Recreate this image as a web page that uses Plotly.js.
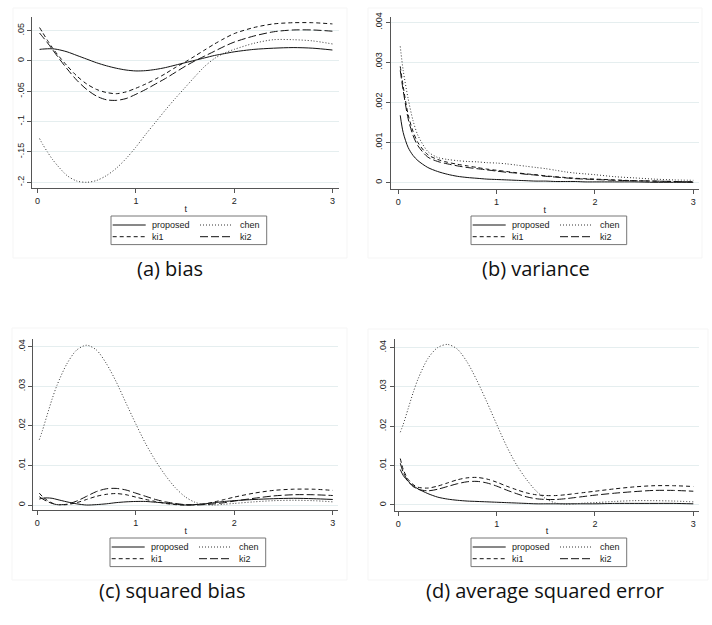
<!DOCTYPE html>
<html>
<head>
<meta charset="utf-8">
<script src="https://cdn.plot.ly/plotly-3.0.1.min.js"></script>
<style>
  html, body { margin: 0; padding: 0; background: #fff; }
  #chart { width: 712px; height: 625px; }
</style>
</head>
<body>
<div id="chart"></div>
<script>
// Evaluation points of the simulation study
const t = [0.02, 0.05, 0.1, 0.15, 0.2, 0.3, 0.4, 0.5, 0.6, 0.7, 0.8, 0.9, 1.0, 1.1, 1.2, 1.3, 1.4, 1.5,
           1.6, 1.7, 1.8, 1.9, 2.0, 2.2, 2.4, 2.6, 2.8, 3.0];

const seriesNames = ['proposed', 'chen', 'ki1', 'ki2'];

// (a) bias
const biasProposed = [0.019, 0.0195, 0.020, 0.020, 0.019, 0.015, 0.009, 0.003, -0.003, -0.008, -0.012, -0.015, -0.0165, -0.016,
                      -0.014, -0.011, -0.007, -0.003, 0.001, 0.005, 0.009, 0.012, 0.015, 0.019, 0.021, 0.022, 0.021, 0.018];
const biasChen = [-0.128, -0.137, -0.150, -0.162, -0.172, -0.189, -0.198, -0.200, -0.197, -0.189, -0.177, -0.161, -0.142, -0.121,
                  -0.101, -0.081, -0.062, -0.044, -0.026, -0.009, 0.004, 0.013, 0.019, 0.029, 0.035, 0.035, 0.033, 0.028];
const biasKi1 = [0.055, 0.047, 0.034, 0.022, 0.011, -0.008, -0.025, -0.038, -0.047, -0.052, -0.054, -0.051, -0.045, -0.038,
                 -0.030, -0.021, -0.011, -0.002, 0.008, 0.018, 0.028, 0.037, 0.045, 0.055, 0.061, 0.063, 0.063, 0.061];
const biasKi2 = [0.046, 0.040, 0.030, 0.019, 0.008, -0.013, -0.032, -0.047, -0.058, -0.064, -0.065, -0.062, -0.055, -0.047,
                 -0.038, -0.029, -0.019, -0.009, 0.000, 0.008, 0.016, 0.024, 0.031, 0.041, 0.048, 0.051, 0.051, 0.049];

// (b) variance
const varProposed = [0.00168, 0.00125, 0.00088, 0.00068, 0.00055, 0.00038, 0.00028, 0.00021, 0.00016, 0.00013, 0.00011, 0.00009,
                     0.00008, 0.00007, 0.00006, 0.00005, 0.00004, 0.00004, 0.00003, 0.00003, 0.00003, 0.00002, 0.00002, 0.00002,
                     0.00002, 0.00001, 0.00001, 0.00001];
const varChen = [0.0034, 0.0028, 0.0021, 0.00155, 0.00118, 0.00078, 0.00063, 0.00058, 0.00055, 0.00053, 0.00052, 0.0005,
                 0.00049, 0.00047, 0.00044, 0.00041, 0.00038, 0.00035, 0.00031, 0.00027, 0.00024, 0.00022, 0.0002, 0.00015,
                 0.00012, 0.00009, 0.00007, 0.00006];
const varKi1 = [0.0029, 0.0024, 0.0017, 0.00128, 0.001, 0.0007, 0.00058, 0.00051, 0.00046, 0.00042, 0.00038, 0.00034,
                0.00031, 0.00028, 0.00025, 0.00022, 0.0002, 0.00017, 0.00015, 0.00013, 0.00011, 0.0001, 0.00009, 0.00007,
                0.00005, 0.00004, 0.00003, 0.00002];
const varKi2 = [0.0028, 0.0023, 0.0016, 0.00118, 0.00092, 0.00064, 0.00053, 0.00047, 0.00042, 0.00038, 0.00035, 0.00032,
                0.00029, 0.00026, 0.00024, 0.00021, 0.00019, 0.00016, 0.00014, 0.00012, 0.0001, 0.00009, 0.00008, 0.00006,
                0.00005, 0.00004, 0.00003, 0.00002];

// (c) squared bias
const sqbProposed = [0.0015, 0.0017, 0.0018, 0.0017, 0.0014, 0.0008, 0.0003, 0.0000, 0.0001, 0.0003, 0.0006, 0.0008, 0.0009, 0.0009,
                     0.0007, 0.0005, 0.0002, 0.0000, 0.0001, 0.0003, 0.0006, 0.0009, 0.0011, 0.0014, 0.0016, 0.0017, 0.0016, 0.0014];
const sqbChen = [0.0165, 0.0187, 0.0228, 0.0268, 0.0303, 0.0357, 0.0392, 0.0404, 0.0392, 0.0358, 0.0312, 0.0258, 0.0205, 0.0155,
                 0.0112, 0.0075, 0.0044, 0.0021, 0.0007, 0.0001, 0.0000, 0.0002, 0.0004, 0.0008, 0.0011, 0.0012, 0.0011, 0.0008];
const sqbKi1 = [0.0030, 0.0022, 0.0012, 0.0005, 0.0001, 0.0001, 0.0006, 0.0014, 0.0022, 0.0027, 0.0029, 0.0026, 0.0020, 0.0014,
                0.0009, 0.0004, 0.0001, 0.0000, 0.0001, 0.0003, 0.0008, 0.0014, 0.0020, 0.0030, 0.0037, 0.0040, 0.0040, 0.0037];
const sqbKi2 = [0.0021, 0.0016, 0.0009, 0.0004, 0.0001, 0.0002, 0.0010, 0.0022, 0.0034, 0.0041, 0.0042, 0.0038, 0.0030, 0.0022,
                0.0014, 0.0008, 0.0004, 0.0001, 0.0000, 0.0001, 0.0003, 0.0006, 0.0010, 0.0017, 0.0023, 0.0026, 0.0026, 0.0024];

// (d) average squared error
const aseProposed = [0.0090, 0.0075, 0.0060, 0.0049, 0.0041, 0.0029, 0.0020, 0.0015, 0.0012, 0.0010, 0.0009, 0.0008, 0.0007, 0.0006,
                     0.0005, 0.0004, 0.0003, 0.0003, 0.0003, 0.0003, 0.0003, 0.0003, 0.0003, 0.0004, 0.0004, 0.0004, 0.0004, 0.0003];
const aseChen = [0.0185, 0.0205, 0.0245, 0.0285, 0.0320, 0.0372, 0.0400, 0.0408, 0.0396, 0.0363, 0.0316, 0.0262, 0.0205, 0.0150,
                 0.0103, 0.0066, 0.0036, 0.0016, 0.0005, 0.0002, 0.0003, 0.0005, 0.0006, 0.0009, 0.0011, 0.0011, 0.0010, 0.0008];
const aseKi1 = [0.0118, 0.0090, 0.0065, 0.0052, 0.0045, 0.0043, 0.0048, 0.0056, 0.0064, 0.0069, 0.0070, 0.0066, 0.0058, 0.0048,
                0.0039, 0.0031, 0.0026, 0.0024, 0.0024, 0.0026, 0.0029, 0.0032, 0.0035, 0.0041, 0.0046, 0.0049, 0.0049, 0.0047];
const aseKi2 = [0.0106, 0.0083, 0.0060, 0.0047, 0.0040, 0.0036, 0.0040, 0.0047, 0.0054, 0.0059, 0.0060, 0.0056, 0.0048, 0.0038,
                0.0029, 0.0021, 0.0016, 0.0014, 0.0014, 0.0016, 0.0019, 0.0022, 0.0025, 0.0030, 0.0034, 0.0037, 0.0037, 0.0035];

const xTicks = [0, 1, 2, 3];
const biasTicks = [-0.2, -0.15, -0.1, -0.05, 0, 0.05];
const biasTickText = ['-.2', '-.15', '-.1', '-.05', '0', '.05'];
const varTicks = [0, 0.001, 0.002, 0.003, 0.004];
const varTickText = ['0', '.001', '.002', '.003', '.004'];
const errTicks = [0, 0.01, 0.02, 0.03, 0.04];
const errTickText = ['0', '.01', '.02', '.03', '.04'];
const captions = ['(a) bias', '(b) variance', '(c) squared bias', '(d) average squared error'];

// ---- drawing ----
const W = 712, H = 625;
const px = x => x / W;
const py = y => 1 - y / H;

const LABEL_FONT = 'Liberation Sans, Arial, sans-serif';
const styles = [
  { dash: 'solid',   color: '#111' },   // proposed
  { dash: '1px,2px', color: '#333' },   // chen
  { dash: '4px,3px', color: '#111' },   // ki1
  { dash: '8px,3px', color: '#111' }    // ki2
];

const panels = [
  { series: [biasProposed, biasChen, biasKi1, biasKi2], box: [32.3, 17.3, 339.3, 188.3],
    xr: [-0.054, 3.07], yr: [-0.2099, 0.0719], tv: biasTicks, tt: biasTickText,
    legend: [111, 216], cap: [170, 268], frame: [13, 8, 347, 258] },
  { series: [varProposed, varChen, varKi1, varKi2], box: [390.7, 16.7, 699, 189],
    xr: [-0.077, 3.058], yr: [-0.000157, 0.00414], tv: varTicks, tt: varTickText,
    legend: [471, 216], cap: [536, 268], frame: [368, 8, 702, 258] },
  { series: [sqbProposed, sqbChen, sqbKi1, sqbKi2], box: [33.3, 339.3, 338.3, 510],
    xr: [-0.041, 3.056], yr: [-0.00126, 0.0419], tv: errTicks, tt: errTickText,
    legend: [110, 538], cap: [172, 590], frame: [12, 328, 347, 580] },
  { series: [aseProposed, aseChen, aseKi1, aseKi2], box: [395, 339.3, 699, 510.7],
    xr: [-0.034, 3.058], yr: [-0.00145, 0.0421], tv: errTicks, tt: errTickText,
    legend: [471, 538], cap: [545, 590], frame: [368, 329, 708, 580] }
];

const traces = [];
const layout = {
  width: W, height: H,
  margin: { l: 0, r: 0, t: 0, b: 0 },
  paper_bgcolor: '#fff', plot_bgcolor: '#fff',
  showlegend: false,
  shapes: [], annotations: []
};

panels.forEach((p, i) => {
  const n = i === 0 ? '' : String(i + 1);
  const xa = 'xaxis' + n, ya = 'yaxis' + n;
  const [x0, y0, x1, y1] = p.box;

  layout[xa] = {
    domain: [px(x0), px(x1)], range: p.xr, anchor: 'y' + n,
    showline: true, linecolor: '#555', linewidth: 1,
    ticks: 'outside', ticklen: 4, tickcolor: '#555', tickwidth: 1,
    tickvals: xTicks, ticktext: xTicks.map(String),
    tickfont: { family: LABEL_FONT, size: 9, color: '#222' },
    showgrid: false, zeroline: false,
    title: { text: 't', font: { family: LABEL_FONT, size: 9, color: '#222' }, standoff: 0 }
  };
  layout[ya] = {
    domain: [py(y1), py(y0)], range: p.yr, anchor: 'x' + n,
    showline: true, linecolor: '#555', linewidth: 1,
    ticks: 'outside', ticklen: 4, tickcolor: '#555', tickwidth: 1,
    tickvals: p.tv, ticktext: p.tt, tickangle: -90,
    tickfont: { family: LABEL_FONT, size: 9, color: '#222' },
    showgrid: true, gridcolor: '#e5eeef', gridwidth: 1, zeroline: false
  };

  p.series.forEach((ys, k) => {
    traces.push({
      type: 'scatter', mode: 'lines', name: seriesNames[k],
      x: t, y: ys, xaxis: 'x' + n, yaxis: 'y' + n,
      line: { color: styles[k].color, width: 1, dash: styles[k].dash, shape: 'spline', smoothing: 0.8 },
      hoverinfo: 'skip'
    });
  });

  // faint outline of each graph region
  const [fx0, fy0, fx1, fy1] = p.frame;
  layout.shapes.push({ type: 'rect', xref: 'paper', yref: 'paper', layer: 'below',
    x0: px(fx0), x1: px(fx1), y0: py(fy1), y1: py(fy0),
    line: { color: '#f5f5f5', width: 1 }, fillcolor: 'rgba(0,0,0,0)' });

  // key: two columns, two rows
  const [lx, ly] = p.legend;
  layout.shapes.push({ type: 'rect', xref: 'paper', yref: 'paper',
    x0: px(lx), x1: px(lx + 155.7), y0: py(ly + 28.6), y1: py(ly),
    line: { color: '#777', width: 1 }, fillcolor: '#fff' });
  const slots = [[0, 0], [1, 0], [0, 1], [1, 1]]; // proposed, chen, ki1, ki2
  slots.forEach(([c, r], k) => {
    const sx = lx + (c === 0 ? 1.7 : 89);
    const sy = ly + (r === 0 ? 9 : 20.7);
    layout.shapes.push({ type: 'line', xref: 'paper', yref: 'paper',
      x0: px(sx), x1: px(sx + 33), y0: py(sy), y1: py(sy),
      line: { color: styles[k].color, width: 1, dash: styles[k].dash } });
    layout.annotations.push({ xref: 'paper', yref: 'paper', x: px(sx + 37.5), y: py(sy),
      xanchor: 'left', yanchor: 'middle', showarrow: false, text: seriesNames[k],
      font: { family: LABEL_FONT, size: 9, color: '#222' } });
  });

  layout.annotations.push({ xref: 'paper', yref: 'paper', x: px(p.cap[0]), y: py(p.cap[1]),
    xanchor: 'center', yanchor: 'middle', showarrow: false, text: captions[i],
    font: { family: 'Open Sans, DejaVu Sans, sans-serif', size: 20, color: '#111' } });
});

Plotly.newPlot('chart', traces, layout, { staticPlot: true, displayModeBar: false });
</script>
</body>
</html>
